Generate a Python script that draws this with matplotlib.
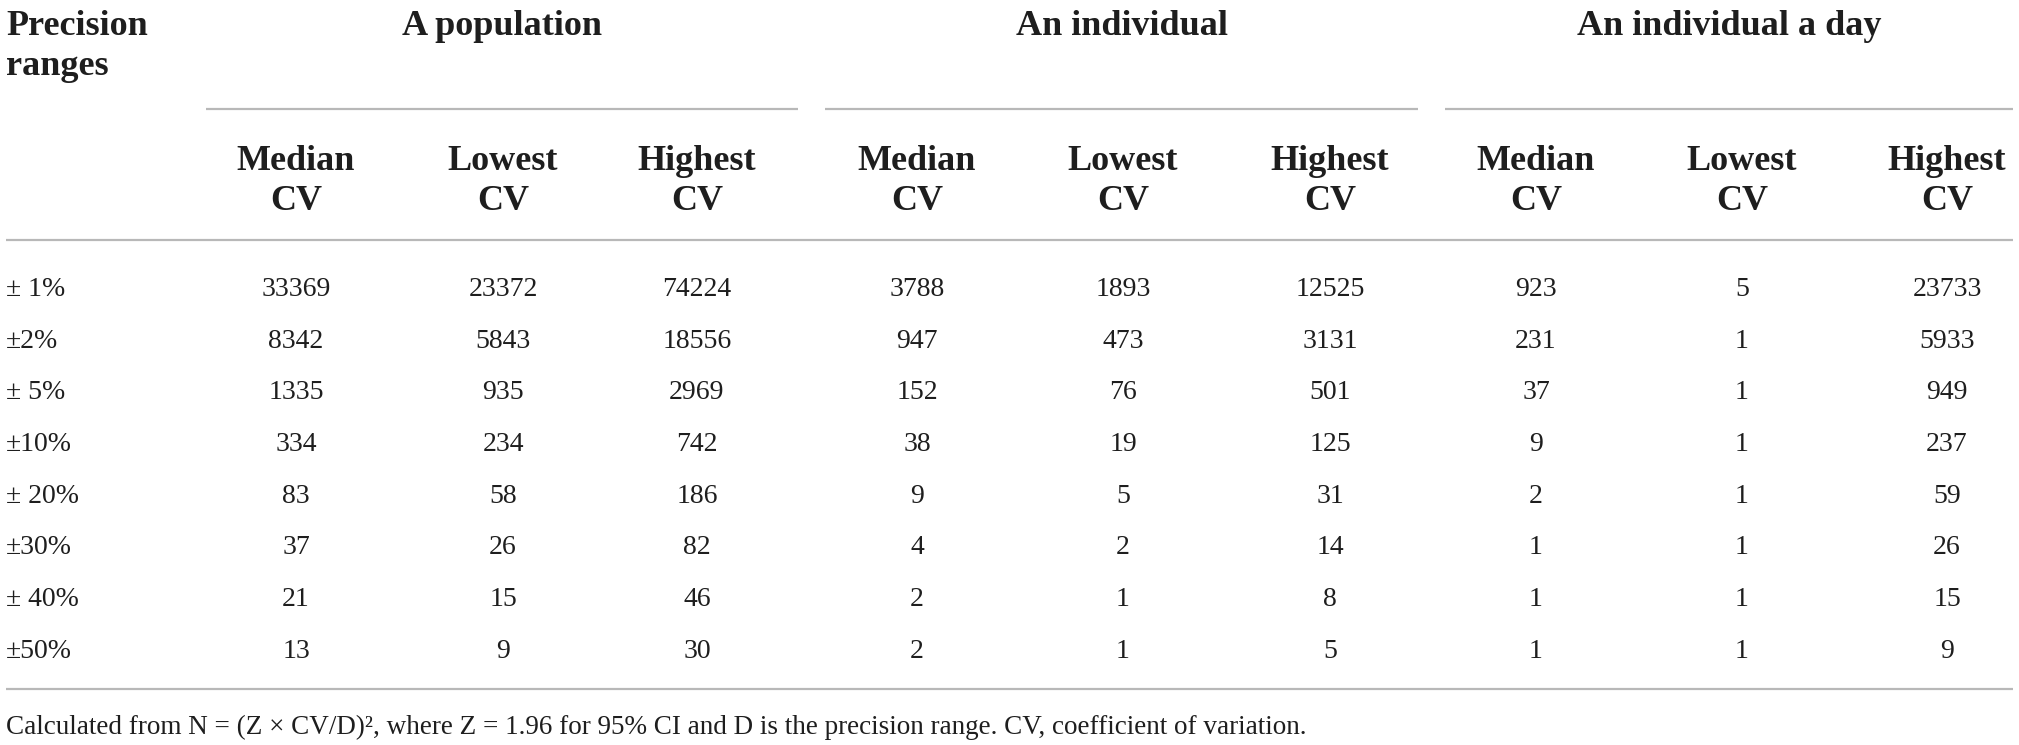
import matplotlib
matplotlib.use("Agg")
import matplotlib.pyplot as plt

# Table contents
row_labels = ["± 1%", "±2%", "± 5%", "±10%", "± 20%", "±30%", "± 40%", "±50%"]
groups = ["A population", "An individual", "An individual a day"]
sub_headers = ["Median", "Lowest", "Highest"]

pop_median = [33369, 8342, 1335, 334, 83, 37, 21, 13]
pop_lowest = [23372, 5843, 935, 234, 58, 26, 15, 9]
pop_highest = [74224, 18556, 2969, 742, 186, 82, 46, 30]
ind_median = [3788, 947, 152, 38, 9, 4, 2, 2]
ind_lowest = [1893, 473, 76, 19, 5, 2, 1, 1]
ind_highest = [12525, 3131, 501, 125, 31, 14, 8, 5]
day_median = [923, 231, 37, 9, 2, 1, 1, 1]
day_lowest = [5, 1, 1, 1, 1, 1, 1, 1]
day_highest = [23733, 5933, 949, 237, 59, 26, 15, 9]

footnote = ("Calculated from N = (Z \u00d7 CV/D)\u00b2, where Z = 1.96 for 95% CI "
            "and D is the precision range. CV, coefficient of variation.")

columns = [pop_median, pop_lowest, pop_highest,
           ind_median, ind_lowest, ind_highest,
           day_median, day_lowest, day_highest]

# Layout (pixel coordinates of the 2019x745 canvas)
W, H = 2019, 745
col_x = [296, 503, 697, 917, 1123, 1330, 1536, 1742, 1947]
group_spans = [(206, 798), (825, 1418), (1445, 2013)]
row_y0, row_dy = 296, 51.7
txt = "#1e1e1e"
rule = "#b8b8b8"
font = "Liberation Serif"

fig = plt.figure(figsize=(W / 100, H / 100), dpi=100)
ax = fig.add_axes([0, 0, 1, 1])
ax.set_xlim(0, W)
ax.set_ylim(H, 0)
ax.axis("off")

hdr = dict(family=font, fontsize=26, fontweight="bold", color=txt, va="baseline")
body = dict(family=font, fontsize=20, color=txt, va="baseline")

# Stub header
ax.text(6, 35, "Precision", ha="left", **hdr)
ax.text(6, 75, "ranges", ha="left", **hdr)

# Group headers and their rules
for g, (x0, x1) in zip(groups, group_spans):
    ax.text((x0 + x1) / 2, 35, g, ha="center", **hdr)
    ax.plot([x0, x1], [109, 109], color=rule, lw=1.6, solid_capstyle="butt")

# Sub headers
for i, x in enumerate(col_x):
    ax.text(x, 170, sub_headers[i % 3], ha="center", **hdr)
    ax.text(x, 210, "CV", ha="center", **hdr)

ax.plot([6, 2013], [240, 240], color=rule, lw=1.6, solid_capstyle="butt")

# Body
for r, lab in enumerate(row_labels):
    y = row_y0 + r * row_dy
    ax.text(6, y, lab, ha="left", **body)
    for x, col in zip(col_x, columns):
        ax.text(x, y, str(col[r]), ha="center", **body)

ax.plot([6, 2013], [689, 689], color=rule, lw=1.6, solid_capstyle="butt")

ax.text(6, 734, footnote, ha="left", family=font, fontsize=19.5, color=txt, va="baseline")

fig.savefig("out.png", dpi=100, facecolor="white")
